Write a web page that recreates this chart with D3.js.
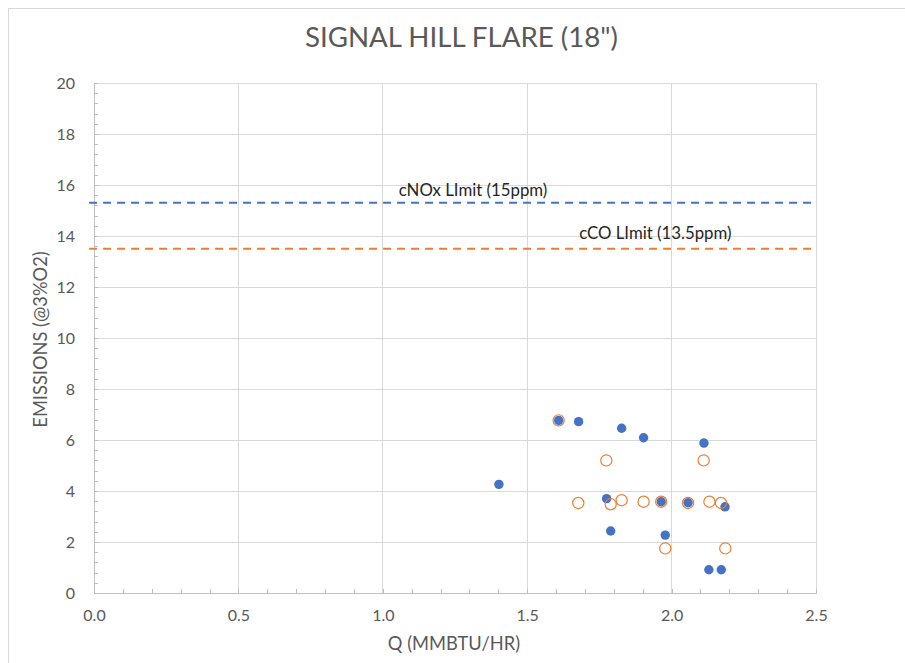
<!DOCTYPE html>
<html>
<head>
<meta charset="utf-8">
<script src="https://cdn.jsdelivr.net/npm/d3@7"></script>
<style>
  html, body { margin: 0; padding: 0; background: #fff; }
  svg { display: block; font-family: Lato, "Open Sans", sans-serif; }
</style>
</head>
<body>
<div id="chart"></div>
<script>
// ---------- data ----------
const titleText = 'SIGNAL HILL FLARE (18")';
const xAxisTitle = "Q (MMBTU/HR)";
const yAxisTitle = "EMISSIONS (@3%O2)";

const xTicks = [0, 0.5, 1.0, 1.5, 2.0, 2.5];
const yTicks = [0, 2, 4, 6, 8, 10, 12, 14, 16, 18, 20];

// NOx series (filled blue)
const noxQ   = [1.402, 1.609, 1.678, 1.827, 1.903, 2.112, 1.775, 1.964, 2.057, 2.185, 1.789, 1.978, 2.129, 2.172];
const noxVal = [4.26, 6.77, 6.72, 6.46, 6.09, 5.88, 3.70, 3.58, 3.54, 3.38, 2.43, 2.27, 0.91, 0.91];

// CO series (hollow orange)
const coQ   = [1.609, 1.774, 2.111, 1.677, 1.789, 1.827, 1.903, 1.964, 2.057, 2.131, 2.171, 1.978, 2.186];
const coVal = [6.77, 5.20, 5.20, 3.53, 3.48, 3.64, 3.58, 3.58, 3.53, 3.58, 3.53, 1.75, 1.75];

// Limit lines
const limitX = [-0.017, 2.5];
const noxLimit = 15.3;
const coLimit = 13.5;
const noxLimitLabel = "cNOx LImit (15ppm)";
const coLimitLabel = "cCO LImit (13.5ppm)";
const noxLabelQ = 1.055;
const coLabelQ = 1.68;

// ---------- chart ----------
const W = 905, H = 663;
const svg = d3.select("#chart").append("svg").attr("width", W).attr("height", H);

// chart frame
svg.append("rect").attr("x", 8.5).attr("y", 8.5).attr("width", 1000).attr("height", 1000)
  .attr("fill", "none").attr("stroke", "#d9d9d9").attr("stroke-width", 1);

const x = d3.scaleLinear().domain([0, 2.5]).range([94, 816]);
const y = d3.scaleLinear().domain([0, 20]).range([593, 83]);

// gridlines
const grid = svg.append("g").attr("stroke", "#d9d9d9").attr("stroke-width", 1).attr("shape-rendering", "crispEdges");
grid.selectAll(".vg").data(xTicks.slice(1)).enter().append("line")
  .attr("x1", d => x(d)).attr("x2", d => x(d)).attr("y1", y(0)).attr("y2", y(20));
grid.selectAll(".hg").data(yTicks.slice(1)).enter().append("line")
  .attr("x1", x(0)).attr("x2", x(2.5)).attr("y1", d => y(d)).attr("y2", d => y(d));

// minor ticks (inside)
const minorX = d3.range(0, 2.5001, 0.1).map(v => +v.toFixed(2));
const minorY = d3.range(0, 20.001, 0.4).map(v => +v.toFixed(2));
const gmx = svg.append("g").attr("transform", `translate(0,${y(0)})`)
  .call(d3.axisBottom(x).tickValues(minorX).tickSize(-4).tickFormat(""));
const gmy = svg.append("g").attr("transform", `translate(${x(0)},0)`)
  .call(d3.axisLeft(y).tickValues(minorY).tickSize(-4).tickFormat(""));
[gmx, gmy].forEach(g => {
  g.selectAll("line").attr("stroke", "#bfbfbf").attr("shape-rendering", "crispEdges");
  g.select(".domain").attr("stroke", "#bfbfbf").attr("shape-rendering", "crispEdges");
});

// major axis labels
const gx = svg.append("g").attr("transform", `translate(0,${y(0)})`)
  .call(d3.axisBottom(x).tickValues(xTicks).tickSize(0).tickPadding(17).tickFormat(d3.format(".1f")));
const gy = svg.append("g").attr("transform", `translate(${x(0)},0)`)
  .call(d3.axisLeft(y).tickValues(yTicks).tickSize(0).tickPadding(19).tickFormat(d3.format("d")));
[gx, gy].forEach(g => {
  g.select(".domain").remove();
  g.selectAll("text").attr("fill", "#595959").style("font-size", "16px").style("font-family", "Lato, sans-serif");
});

// limit lines
const line = d3.line().x(d => x(d[0])).y(d => y(d[1]));
svg.append("path").datum(limitX.map(q => [q, noxLimit])).attr("d", line)
  .attr("fill", "none").attr("stroke", "#4472C4").attr("stroke-width", 2).attr("stroke-dasharray", "8,6");
svg.append("path").datum(limitX.map(q => [q, coLimit])).attr("d", line)
  .attr("fill", "none").attr("stroke", "#ED7D31").attr("stroke-width", 2).attr("stroke-dasharray", "8,6");

svg.append("text").attr("x", x(noxLabelQ)).attr("y", y(noxLimit) - 7)
  .attr("fill", "#262626").style("font-size", "16.8px").text(noxLimitLabel);
svg.append("text").attr("x", x(coLabelQ)).attr("y", y(coLimit) - 9.5)
  .attr("fill", "#262626").style("font-size", "16.8px").text(coLimitLabel);

// NOx markers
svg.append("g").selectAll("circle").data(noxQ.map((q, i) => [q, noxVal[i]])).enter().append("circle")
  .attr("cx", d => x(d[0])).attr("cy", d => y(d[1])).attr("r", 4.7).attr("fill", "#4472C4");

// CO markers
svg.append("g").selectAll("circle").data(coQ.map((q, i) => [q, coVal[i]])).enter().append("circle")
  .attr("cx", d => x(d[0])).attr("cy", d => y(d[1])).attr("r", 5.6)
  .attr("fill", "none").attr("stroke", "#ED7D31").attr("stroke-width", 1.2);

// titles
svg.append("text").attr("x", 461.5).attr("y", 46.7).attr("text-anchor", "middle")
  .attr("fill", "#595959").style("font-size", "27px")
  .attr("textLength", 313).attr("lengthAdjust", "spacingAndGlyphs").text(titleText);

svg.append("text").attr("x", 454).attr("y", 650).attr("text-anchor", "middle")
  .attr("fill", "#595959").style("font-size", "18.3px").text(xAxisTitle);

svg.append("text").attr("transform", "translate(46.5,339.5) rotate(-90)").attr("text-anchor", "middle")
  .attr("fill", "#595959").style("font-size", "18.3px").text(yAxisTitle);
</script>
</body>
</html>
